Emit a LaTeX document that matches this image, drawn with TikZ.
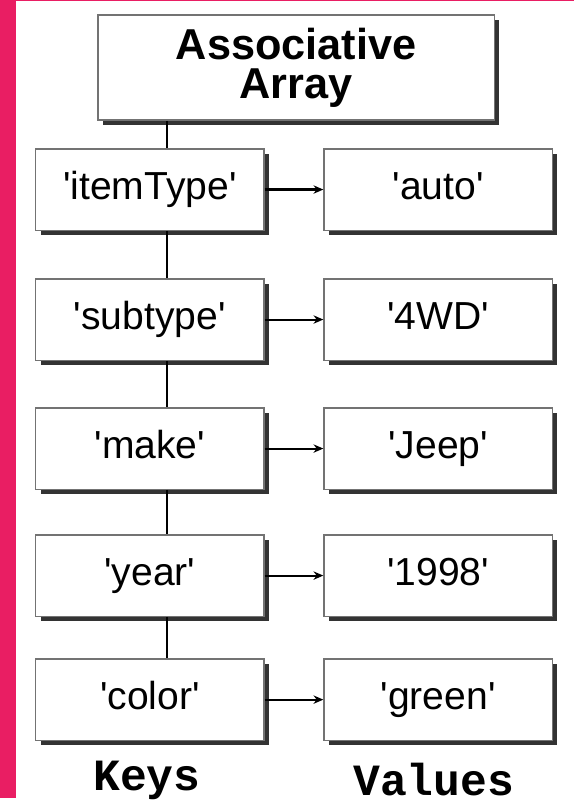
\documentclass[tikz,border=0pt]{standalone}
\usepackage{fontspec}
\setmainfont{Liberation Sans}
\newfontfamily\capfont{Liberation Mono}
\usetikzlibrary{shadows,arrows.meta}
\definecolor{pinkbar}{HTML}{E91E63}
\newcommand{\q}{\textquotesingle}
\begin{document}
\begin{tikzpicture}[x=0.025cm,y=-0.025cm]
	\tikzstyle{boxshadow} = [drop shadow={shadow xshift=3.5pt,shadow yshift=-3.5pt,fill=black!80,opacity=1}]
	\tikzstyle{titlebox} = [rectangle,draw=black!55,line width=1pt,fill=white,boxshadow,minimum width=9.975cm,minimum height=2.65cm,align=center,font=\bfseries\fontsize{31}{28}\selectfont]
	\tikzstyle{keybox} = [rectangle,draw=black!55,line width=1pt,fill=white,boxshadow,minimum width=5.75cm,minimum height=2.05cm,text height=20pt,text depth=6pt,font=\fontsize{28}{30}\selectfont]
	\tikzstyle{caption} = [font=\capfont\bfseries\fontsize{32}{34}\selectfont]
	\tikzstyle{link} = [line width=1.5pt]
	\fill[white] (0,0) rectangle (578,804);
	\fill[pinkbar] (0,0) rectangle (16,804);
	\fill[pinkbar] (0,0) rectangle (578,1.5);
	\node[titlebox] (array) at (298.5,68) {Associative\\Array};
	\node[keybox] (itemtype) at (151,191) {\q itemType\q};
	\node[keybox] (subtype) at (151,322) {\q subtype\q};
	\node[keybox] (make) at (151,452) {\q make\q};
	\node[keybox] (year) at (151,580) {\q year\q};
	\node[keybox] (color) at (151,705) {\q color\q};
	\node[keybox] (auto) at (441.5,191) {\q auto\q};
	\node[keybox] (fourwd) at (441.5,322) {\q 4WD\q};
	\node[keybox] (jeep) at (441.5,452) {\q Jeep\q};
	\node[keybox] (yr) at (441.5,580) {\q 1998\q};
	\node[keybox] (green) at (441.5,705) {\q green\q};
	\node[caption] (keys) at (148,786) {Keys};
	\node[caption] (values) at (437,786) {Values};
	\coordinate (spine) at (168,0);
	\draw[link] (array.south -| spine) -- (itemtype.north -| spine);
	\draw[link] (itemtype.south -| spine) -- (subtype.north -| spine);
	\draw[link] (subtype.south -| spine) -- (make.north -| spine);
	\draw[link] (make.south -| spine) -- (year.north -| spine);
	\draw[link] (year.south -| spine) -- (color.north -| spine);
	\draw[link,-{Stealth[length=7pt,width=6pt]}] (itemtype) -- (auto);
	\draw[link,-{Stealth[length=7pt,width=6pt]}] (subtype) -- (fourwd);
	\draw[link,-{Stealth[length=7pt,width=6pt]}] (make) -- (jeep);
	\draw[link,-{Stealth[length=7pt,width=6pt]}] (year) -- (yr);
	\draw[link,-{Stealth[length=7pt,width=6pt]}] (color) -- (green);
\end{tikzpicture}
\end{document}
